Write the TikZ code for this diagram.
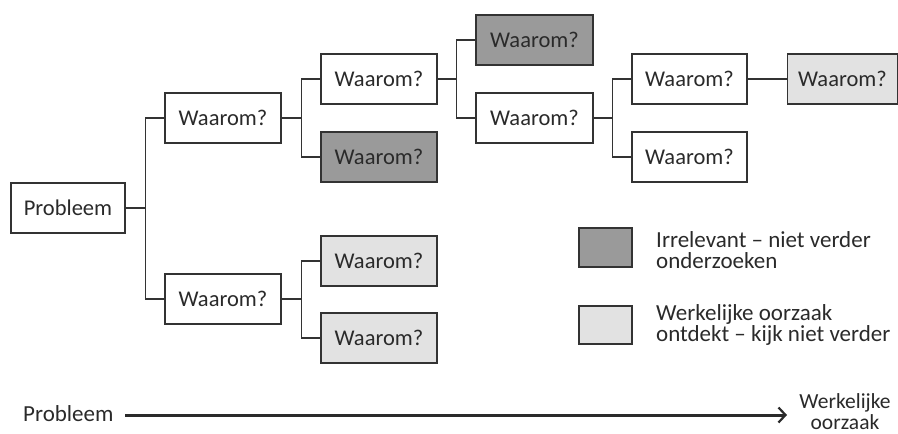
\documentclass[tikz,border=0pt]{standalone}
\usepackage{fontspec}
\setmainfont{Carlito}
\usetikzlibrary{arrows.meta}
\definecolor{edge}{HTML}{333333}
\definecolor{darkfill}{HTML}{9A9A9A}
\definecolor{lightfill}{HTML}{E2E2E2}
\definecolor{ink}{HTML}{2A2A2A}
\tikzset{
  box/.style={draw=edge, line width=1.3pt, fill=white, minimum width=116pt, minimum height=50pt, inner sep=0pt, text=ink, font=\fontsize{22.5}{20}\selectfont},
  darkbox/.style={box, fill=darkfill},
  lightbox/.style={box, fill=lightfill},
  link/.style={draw=edge, line width=1.3pt},
  legtext/.style={anchor=west, align=left, inner sep=0pt, text=ink, font=\fontsize{23}{21.5}\selectfont},
  plain/.style={inner sep=0pt, text=ink, font=\fontsize{23}{20}\selectfont},
  endtext/.style={inner sep=0pt, text=ink, align=center, font=\fontsize{21.5}{21}\selectfont}
}
\begin{document}
\begin{tikzpicture}[x=1pt,y=-1pt]
\useasboundingbox (0,0) rectangle (898,434);
% tree
\node[box, minimum width=114pt] (P) at (68,208) {Probleem};
\node[box] (A) at (223,118) {Waarom?};
\node[box] (B) at (223,299) {Waarom?};
\node[box] (C) at (379,79) {Waarom?};
\node[darkbox] (D) at (379,157) {Waarom?};
\node[lightbox] (E) at (379,261) {Waarom?};
\node[lightbox] (F) at (379,338) {Waarom?};
\node[darkbox, minimum width=117pt] (G) at (534.5,40) {Waarom?};
\node[box, minimum width=117pt] (H) at (534.5,118) {Waarom?};
\node[box, minimum width=115pt] (I) at (689.5,79) {Waarom?};
\node[box, minimum width=115pt] (J) at (689.5,157) {Waarom?};
\node[lightbox, minimum width=110pt] (K) at (842.5,79) {Waarom?};
% connectors
\draw[link] (P.east) -- ++(20,0) coordinate (jP);
\draw[link] (A.west) -| (jP) |- (B.west);
\draw[link] (A.east) -- ++(20,0) coordinate (jA);
\draw[link] (C.west) -| (jA) |- (D.west);
\draw[link] (B.east) -- ++(20,0) coordinate (jB);
\draw[link] (E.west) -| (jB) |- (F.west);
\draw[link] (C.east) -- ++(19,0) coordinate (jC);
\draw[link] (G.west) -| (jC) |- (H.west);
\draw[link] (H.east) -- ++(19,0) coordinate (jH);
\draw[link] (I.west) -| (jH) |- (J.west);
\draw[link] (I.east) -- (K.west);
% legend
\node[darkbox, minimum width=53pt, minimum height=39pt] (L1) at (605.5,247.5) {};
\node[lightbox, minimum width=53pt, minimum height=38pt] (L2) at (605.5,325) {};
\node[legtext] (T1) at (656,250) {Irrelevant – niet verder\\onderzoeken};
\node[legtext] (T2) at (656,325) {Werkelijke oorzaak\\ontdekt – kijk niet verder};
% bottom arrow
\node[plain, anchor=west] (PS) at (23,414) {Probleem};
\node[endtext] (WO) at (845,412) {Werkelijke\\oorzaak};
\draw[draw=ink, line width=3pt, -{Straight Barb[length=7pt,width=15pt,line width=2.2pt]}] (125,415) -- (787,415);
\end{tikzpicture}
\end{document}
